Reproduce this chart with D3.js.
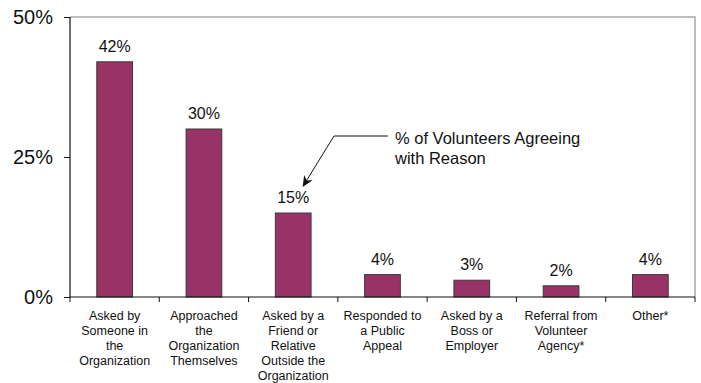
<!DOCTYPE html>
<html>
<head>
<meta charset="utf-8">
<script src="https://cdn.jsdelivr.net/npm/d3@7"></script>
<style>
  html, body { margin: 0; padding: 0; background: #fff; }
  svg { display: block; font-family: "Liberation Sans", Arial, sans-serif; }
</style>
</head>
<body>
<svg id="chart" width="701" height="383"></svg>
<script>
// Reasons for volunteering and share of volunteers agreeing with each
const categories = [
  ["Asked by", "Someone in", "the", "Organization"],
  ["Approached", "the", "Organization", "Themselves"],
  ["Asked by a", "Friend or", "Relative", "Outside the", "Organization"],
  ["Responded to", "a Public", "Appeal"],
  ["Asked by a", "Boss or", "Employer"],
  ["Referral from", "Volunteer", "Agency*"],
  ["Other*"]
];
const values = [42, 30, 15, 4, 3, 2, 4];
const yTicks = [0, 25, 50];
const annotationLines = ["% of Volunteers Agreeing", "with Reason"];

const svg = d3.select("#chart");
const margin = { left: 70, right: 6, top: 17, bottom: 86 };
const W = 701, H = 383;
const x0 = margin.left, x1 = W - margin.right;
const y0 = H - margin.bottom, y1 = margin.top;

const x = d3.scaleBand().domain(d3.range(categories.length)).range([x0, x1]).paddingInner(0.6).paddingOuter(0.3);
const xBand = d3.scaleBand().domain(d3.range(categories.length)).range([x0, x1]).padding(0);
const y = d3.scaleLinear().domain([0, 50]).range([y0, y1]);

// plot frame (top and right, light gray)
svg.append("path")
  .attr("d", `M${x0},${y1}H${x1}V${y0}`)
  .attr("fill", "none").attr("stroke", "#a8a8a8").attr("stroke-width", 1.5);

// bars
svg.append("g").selectAll("rect").data(values).join("rect")
  .attr("x", (d, i) => x(i))
  .attr("y", d => y(d))
  .attr("width", x.bandwidth())
  .attr("height", d => y(0) - y(d))
  .attr("fill", "#993366")
  .attr("stroke", "#3a3a3a")
  .attr("stroke-width", 1);

// value labels
svg.append("g").selectAll("text").data(values).join("text")
  .attr("x", (d, i) => x(i) + x.bandwidth() / 2)
  .attr("y", d => y(d) - 10)
  .attr("text-anchor", "middle")
  .attr("font-size", 16)
  .attr("fill", "#111")
  .text(d => d + "%");

// y axis
const yAxis = svg.append("g").attr("transform", `translate(${x0},0)`)
  .call(d3.axisLeft(y).tickValues(yTicks).tickFormat(d => d + "%").tickSize(6).tickPadding(11));
yAxis.select(".domain").attr("stroke", "#111").attr("stroke-width", 1.2).attr("d", `M0,${y0}V${y1}`);
yAxis.selectAll(".tick line").attr("stroke", "#111");
yAxis.selectAll(".tick text").attr("font-size", 20).attr("fill", "#111")
  .attr("font-family", "'Liberation Sans', Arial, sans-serif");

// x axis: ticks on category boundaries
const xAxis = svg.append("g");
xAxis.append("line").attr("x1", x0).attr("x2", x1).attr("y1", y0).attr("y2", y0)
  .attr("stroke", "#111").attr("stroke-width", 1.2);
xAxis.selectAll("line.tk").data(d3.range(categories.length + 1)).join("line")
  .attr("class", "tk")
  .attr("x1", i => i < categories.length ? xBand(i) : x1)
  .attr("x2", i => i < categories.length ? xBand(i) : x1)
  .attr("y1", y0).attr("y2", y0 + 5)
  .attr("stroke", "#111");

// category labels
const catG = svg.append("g").selectAll("text").data(categories).join("text")
  .attr("x", (d, i) => xBand(i) + xBand.bandwidth() / 2)
  .attr("y", y0 + 23)
  .attr("text-anchor", "middle")
  .attr("font-size", 12.5)
  .attr("fill", "#111");
catG.selectAll("tspan").data(d => d).join("tspan")
  .attr("x", function() { return d3.select(this.parentNode).attr("x"); })
  .attr("dy", (d, j) => j === 0 ? 0 : 15)
  .text(d => d);

// callout
svg.append("defs").append("marker")
  .attr("id", "arrow").attr("viewBox", "0 0 10 10")
  .attr("refX", 9).attr("refY", 5)
  .attr("markerWidth", 11).attr("markerHeight", 11)
  .attr("markerUnits", "userSpaceOnUse")
  .attr("orient", "auto")
  .append("path").attr("d", "M0,0.5L10,5L0,9.5L3,5Z").attr("fill", "#111");

const tipX = x(2) + x.bandwidth() / 2 + 10;
const tipY = y(values[2]) - 27;
svg.append("path")
  .attr("d", `M388,136H334L${tipX},${tipY}`)
  .attr("fill", "none").attr("stroke", "#111").attr("stroke-width", 1)
  .attr("marker-end", "url(#arrow)");

svg.append("text")
  .attr("x", 395).attr("y", 144)
  .attr("font-size", 16.5).attr("fill", "#111")
  .selectAll("tspan").data(annotationLines).join("tspan")
  .attr("x", 395).attr("dy", (d, i) => i === 0 ? 0 : 20)
  .text(d => d);
</script>
</body>
</html>
